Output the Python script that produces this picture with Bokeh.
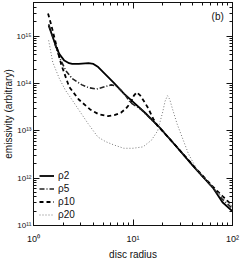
from bokeh.plotting import figure
from bokeh.models import (LogAxis, FixedTicker, CustomJSTickFormatter, Legend,
                          LegendItem, Label, Title)
from bokeh.embed import file_html
from bokeh.resources import INLINE

# ---- data ----
r_p2 = [1.42, 1.57, 1.69, 1.82, 2.04, 2.28, 2.45, 2.85, 3.57, 4.0, 4.47, 5.19,
        6.5, 8.15, 9.46, 13.2, 19.1, 27.8, 40.5, 63.4, 79.3, 100]
e_p2 = [1.67e15, 9.16e14, 5.89e14, 4.16e14, 3.03e14, 2.67e14, 2.58e14, 2.58e14,
        2.67e14, 2.58e14, 2.21e14, 1.61e14, 1.0e14, 6.03e13, 4.53e13, 2.40e13,
        1.09e13, 4.43e12, 1.77e12, 6.32e11, 3.10e11, 1.99e11]

r_p5 = [1.42, 1.57, 1.69, 1.82, 2.11, 2.45, 3.07, 3.6, 4.31, 5.2, 6.03, 6.7,
        7.55, 8.5, 9.46, 12.0, 19.1, 27.8, 40.5, 63.4, 79.3, 100]
e_p5 = [1.78e15, 9.5e14, 5.6e14, 3.55e14, 1.86e14, 1.26e14, 9.3e13, 8.1e13,
        7.6e13, 8.5e13, 9.3e13, 8.9e13, 7.2e13, 5.4e13, 3.9e13, 2.85e13,
        1.09e13, 4.47e12, 1.78e12, 6.3e11, 3.55e11, 2.29e11]

r_p10 = [1.40, 1.5, 1.69, 1.9, 2.28, 2.85, 3.71, 4.5, 5.6, 6.5, 7.55, 8.5, 9.46,
         10.2, 10.9, 11.8, 12.9, 14.2, 16.0, 17.7, 19.1, 27.8, 40.5, 63.4, 79.3,
         100]
e_p10 = [3.0e15, 1.78e15, 6.6e14, 2.5e14, 8.5e13, 4.57e13, 2.82e13, 2.24e13,
         2.04e13, 2.14e13, 2.4e13, 2.95e13, 3.9e13, 5.5e13, 6.5e13, 5.6e13,
         4.2e13, 3.0e13, 1.78e13, 1.26e13, 1.07e13, 4.47e12, 1.82e12, 6.6e11,
         4.17e11, 2.63e11]

r_p20 = [1.42, 1.56, 1.82, 2.1, 2.44, 3.05, 3.54, 4.43, 5.3, 6.45, 8.08, 10.0,
         12.6, 15.3, 17.7, 19.9, 21.0, 22.2, 23.4, 24.8, 27.8, 32.3, 36.0, 40.4,
         45.0, 63.4, 79.3, 100]
e_p20 = [8.1e14, 2.8e14, 1.26e14, 7.1e13, 4.5e13, 2.24e13, 1.41e13, 7.4e12,
         5.9e12, 5.0e12, 4.27e12, 4.27e12, 4.57e12, 6.3e12, 1.0e13, 2.5e13,
         4.2e13, 5.5e13, 4.6e13, 3.0e13, 1.38e13, 6.0e12, 3.3e12, 2.09e12,
         1.41e12, 6.5e11, 4.0e11, 2.5e11]

series_labels = ["\u03c12", "\u03c15", "\u03c110", "\u03c120"]
x_major = [1, 10, 100]
y_major = [1e11, 1e12, 1e13, 1e14, 1e15]
x_minor = [m * 10 ** k for k in range(0, 2) for m in range(2, 10)]
y_minor = [m * 10 ** k for k in range(11, 16) for m in range(2, 10)]

FONT = "Liberation Sans"

p = figure(width=240, height=262, x_axis_type="log", y_axis_type="log",
           x_range=(1, 100), y_range=(1e11, 5.1e15),
           output_backend="svg", toolbar_location=None,
           min_border_left=27, min_border_right=8, min_border_top=2,
           min_border_bottom=32)
p.grid.visible = False
p.outline_line_color = "#111111"
p.outline_line_width = 1
p.background_fill_color = "white"
p.border_fill_color = "white"

fmt = CustomJSTickFormatter(code="""
const sup = {'0':'\u2070','1':'\u00b9','2':'\u00b2','3':'\u00b3','4':'\u2074',
             '5':'\u2075','6':'\u2076','7':'\u2077','8':'\u2078','9':'\u2079','-':'\u207b'};
const e = Math.round(Math.log10(tick));
return '10' + String(e).split('').map(c => sup[c]).join('');
""")
blank = CustomJSTickFormatter(code="return '';")

def style_axis(ax, ticks, minor, show_labels):
    ax.ticker = FixedTicker(ticks=ticks, minor_ticks=minor)
    ax.axis_line_color = "#111111"
    ax.major_tick_line_color = "#111111"
    ax.minor_tick_line_color = "#111111"
    ax.major_tick_in = 6
    ax.major_tick_out = 0
    ax.minor_tick_in = 3
    ax.minor_tick_out = 0
    ax.major_label_text_font = FONT
    ax.major_label_text_color = "#111111"
    if show_labels:
        ax.formatter = fmt
        ax.major_label_text_font_size = "9px"
        ax.major_label_standoff = 3
    else:
        ax.formatter = blank
        ax.major_label_text_font_size = "1px"
        ax.major_label_standoff = 0

style_axis(p.xaxis[0], x_major, x_minor, True)
style_axis(p.yaxis[0], y_major, y_minor, True)
p.yaxis[0].major_label_text_font_size = "8px"
p.yaxis[0].major_label_standoff = 2
p.xaxis[0].major_label_standoff = 8
p.xaxis[0].axis_label = "disc radius"
p.xaxis[0].axis_label_text_font = FONT
p.xaxis[0].axis_label_text_font_size = "10px"
p.xaxis[0].axis_label_text_font_style = "normal"
p.xaxis[0].axis_label_text_color = "#111111"
p.xaxis[0].axis_label_standoff = 2

top = LogAxis()
right = LogAxis()
style_axis(top, x_major, x_minor, False)
style_axis(right, y_major, y_minor, False)
p.add_layout(top, "above")
p.add_layout(right, "right")

# y axis title, set a little above the frame's centre as in the reference
p.add_layout(Title(text="emissivity (arbitrary)", align="center", offset=20,
                   text_font=FONT, text_font_size="10px",
                   text_font_style="normal", text_color="#111111",
                   standoff=0), "left")

r2 = p.line(r_p2, e_p2, line_color="black", line_width=1.8)
r5 = p.line(r_p5, e_p5, line_color="#222222", line_width=1.6, line_dash="5 2 1 2")
r10 = p.line(r_p10, e_p10, line_color="black", line_width=1.8, line_dash="4 3")
r20 = p.line(r_p20, e_p20, line_color="#777777", line_width=1.0, line_dash="1 2")

legend = Legend(items=[LegendItem(label=series_labels[0], renderers=[r2]),
                       LegendItem(label=series_labels[1], renderers=[r5]),
                       LegendItem(label=series_labels[2], renderers=[r10]),
                       LegendItem(label=series_labels[3], renderers=[r20])],
                location=(2, 0), background_fill_alpha=0, border_line_alpha=0,
                label_text_font=FONT, label_text_font_size="10px",
                label_text_color="#111111",
                glyph_width=15, glyph_height=13, label_height=13, spacing=0,
                padding=4, margin=0, label_standoff=4)
p.add_layout(legend)

p.add_layout(Label(x=71, y=2.6e15, text="(b)", text_font=FONT,
                   text_font_size="10px", text_align="center",
                   text_baseline="middle", text_color="#111111"))

open("out.html", "w").write(file_html(p, INLINE))
